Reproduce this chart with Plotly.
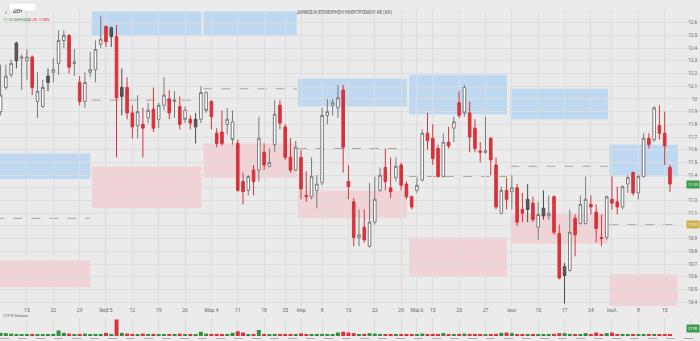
import plotly.graph_objects as go

# ---------------- data ----------------
opens = [11.90, 12.09, 12.19, 12.44, 12.32, 12.30, 12.33, 11.98, 11.94, 12.18,
         12.21, 12.28, 12.46, 12.50, 12.28, 12.13, 11.98, 12.21, 12.23, 12.43,
         12.57, 12.56, 12.49, 12.09, 12.09, 11.89, 11.79, 11.80, 11.85, 11.92,
         11.84, 11.95, 12.00, 11.98, 11.94, 11.91, 11.84, 11.78, 11.84, 12.05,
         11.98, 11.73, 11.65, 11.80, 11.82, 11.65, 11.35, 11.28, 11.44, 11.44,
         11.58, 11.47, 11.64, 11.95, 11.78, 11.54, 11.44, 11.54, 11.24, 11.23,
         11.28, 11.34, 11.87, 11.95, 11.93, 12.07, 11.35, 11.19, 10.91, 10.99,
         10.84, 11.03, 11.28, 11.46, 11.30, 11.38, 11.48, 11.33, 11.23, 11.28,
         11.36, 11.73, 11.69, 11.61, 11.39, 11.66, 11.77, 11.87, 12.09, 11.89,
         11.77, 11.59, 11.58, 11.69, 11.48, 11.10, 11.28, 11.27, 11.30, 11.13,
         11.21, 11.18, 10.99, 11.14, 11.10, 11.23, 10.94, 10.68, 10.65, 11.06,
         11.02, 11.02, 11.17, 11.11, 10.91, 10.91, 11.21, 11.19, 11.15, 11.33,
         11.42, 11.26, 11.39, 11.69, 11.68, 11.79, 11.73, 11.46]
highs = [12.27, 12.27, 12.31, 12.45, 12.35, 12.39, 12.34, 12.21, 12.15, 12.24,
         12.32, 12.54, 12.54, 12.51, 12.39, 12.18, 12.21, 12.37, 12.46, 12.65,
         12.58, 12.57, 12.58, 12.24, 12.17, 11.95, 12.03, 11.93, 11.97, 12.09,
         11.97, 12.17, 12.07, 12.06, 12.02, 11.94, 11.87, 11.89, 12.10, 12.06,
         11.99, 11.77, 11.91, 11.93, 11.91, 11.68, 11.42, 11.40, 11.48, 11.86,
         11.65, 11.61, 11.99, 11.99, 11.80, 11.69, 11.67, 11.60, 11.43, 11.54,
         11.40, 11.93, 12.00, 12.00, 12.11, 12.11, 11.48, 11.22, 11.13, 11.13,
         11.34, 11.39, 11.46, 11.61, 11.54, 11.54, 11.50, 11.35, 11.24, 11.38,
         11.76, 11.89, 11.80, 11.64, 11.73, 11.78, 11.86, 12.06, 12.11, 11.98,
         11.84, 11.66, 11.86, 11.70, 11.54, 11.31, 11.38, 11.40, 11.33, 11.26,
         11.33, 11.23, 11.19, 11.28, 11.24, 11.24, 11.01, 10.71, 11.13, 11.09,
         11.24, 11.39, 11.24, 11.17, 11.09, 11.24, 11.39, 11.31, 11.32, 11.40,
         11.43, 11.40, 11.73, 11.73, 11.94, 11.95, 11.90, 11.48]
lows = [11.87, 12.07, 12.17, 12.24, 12.07, 12.15, 12.03, 11.85, 11.93, 12.06,
        12.13, 12.19, 12.40, 12.20, 12.18, 11.95, 11.93, 12.17, 12.13, 12.40,
        12.41, 12.41, 11.54, 11.87, 11.84, 11.69, 11.69, 11.54, 11.81, 11.74,
        11.77, 11.91, 11.84, 11.85, 11.76, 11.81, 11.76, 11.65, 11.81, 11.89,
        11.76, 11.62, 11.63, 11.72, 11.64, 11.27, 11.17, 11.24, 11.24, 11.35,
        11.44, 11.46, 11.58, 11.76, 11.52, 11.42, 11.43, 11.21, 11.19, 11.21,
        11.14, 11.32, 11.80, 11.87, 11.85, 11.42, 11.21, 10.84, 10.84, 10.87,
        10.83, 11.01, 11.27, 11.28, 11.22, 11.35, 11.28, 11.21, 11.13, 11.26,
        11.35, 11.60, 11.48, 11.38, 11.38, 11.61, 11.66, 11.85, 11.86, 11.58,
        11.58, 11.50, 11.57, 11.40, 11.13, 11.09, 11.13, 11.13, 11.00, 11.03,
        11.03, 11.03, 10.89, 11.05, 11.05, 10.93, 10.58, 10.39, 10.64, 10.76,
        11.01, 11.01, 11.09, 10.87, 10.84, 10.89, 11.13, 11.09, 11.13, 11.26,
        11.24, 11.21, 11.38, 11.61, 11.66, 11.68, 11.48, 11.27]
closes = [12.03, 12.18, 12.28, 12.30, 12.33, 12.33, 12.09, 12.06, 12.09, 12.13,
          12.23, 12.46, 12.50, 12.25, 12.29, 11.98, 12.13, 12.23, 12.39, 12.47,
          12.45, 12.49, 12.01, 12.02, 11.89, 11.78, 11.90, 11.77, 11.91, 11.77,
          11.95, 12.03, 11.89, 11.99, 11.80, 11.84, 11.81, 11.84, 12.05, 11.91,
          11.86, 11.65, 11.74, 11.84, 11.68, 11.28, 11.27, 11.39, 11.35, 11.69,
          11.48, 11.50, 11.88, 11.81, 11.54, 11.44, 11.62, 11.29, 11.23, 11.39,
          11.33, 11.87, 11.90, 11.97, 12.01, 11.62, 11.31, 10.91, 10.93, 10.89,
          11.03, 11.21, 11.40, 11.35, 11.27, 11.47, 11.32, 11.23, 11.15, 11.32,
          11.73, 11.67, 11.53, 11.39, 11.66, 11.63, 11.82, 11.97, 11.89, 11.70,
          11.61, 11.58, 11.59, 11.52, 11.15, 11.28, 11.21, 11.30, 11.03, 11.10,
          11.13, 11.05, 11.09, 11.08, 11.08, 10.95, 10.59, 10.61, 10.95, 10.93,
          11.17, 11.21, 11.15, 10.98, 10.90, 11.23, 11.18, 11.15, 11.31, 11.38,
          11.26, 11.39, 11.69, 11.64, 11.93, 11.73, 11.63, 11.33]
# u = hollow up candle, r = red down candle, d = dark filled candle
kinds = list("uuuduuruud" "uuururuuuu" "rdrdrrurur" "uurururduu"
             "rrruurruru" "ruurrrurru" "uuuuurrrur" "uuurrurrru"
             "urrrururur" "rrurrururr" "drudurrdur" "uurrrurruu"
             "ruururrr")
volumes = [840, 760, 640, 480, 360, 300, 480, 290, 420, 380,
           560, 1480, 840, 640, 480, 560, 650, 470, 560, 420,
           840, 560, 4400, 840, 650, 560, 480, 650, 480, 560,
           480, 370, 480, 370, 650, 480, 370, 420, 1120, 640,
           560, 560, 480, 420, 840, 1260, 920, 480, 480, 1600,
           560, 370, 560, 480, 560, 420, 370, 700, 480, 370,
           370, 560, 370, 480, 920, 1120, 920, 760, 480, 560,
           760, 650, 560, 420, 480, 370, 480, 560, 370, 480,
           650, 480, 560, 480, 760, 480, 370, 560, 650, 560,
           560, 370, 370, 480, 560, 840, 920, 760, 480, 370,
           370, 480, 370, 480, 370, 560, 760, 760, 560, 480,
           480, 760, 420, 920, 560, 760, 920, 480, 480, 370,
           480, 370, 480, 370, 480, 370, 480, 277]

tick_pos = [5, 10, 15, 20, 25, 30, 35, 40, 45, 50, 54, 57, 61, 66, 71, 76, 79,
            82, 87, 92, 97, 102, 107, 112, 116, 121, 126, 131]
tick_text = ["15", "22", "29", "Φεβ 5", "12", "19", "26", "Μαρ 4", "11", "18",
             "25", "Απρ", "8", "15", "22", "29", "Μαϊ 6", "13", "20", "27",
             "Ιουν", "10", "17", "24", "Ιουλ", "8", "15", "22"]
price_ticks = [10.4, 10.5, 10.6, 10.7, 10.8, 10.9, 11.0, 11.1, 11.2, 11.3, 11.4,
               11.5, 11.6, 11.7, 11.8, 11.9, 12.0, 12.1, 12.2, 12.3, 12.4, 12.5,
               12.6]

# monthly zones (index span, supply/demand bands, pivot level)
zone_start = [-1.0, 17.3, 38.5, 56.4, 77.5, 96.7, 115.5]
zone_end = [17.0, 38.1, 56.2, 77.1, 96.1, 115.2, 128.5]
blue_top = [11.57, 12.69, 12.69, 12.16, 12.19, 12.08, 11.64]
blue_bot = [11.37, 12.50, 12.50, 11.94, 11.88, 11.84, 11.39]
pink_top = [10.73, 11.47, 11.65, 11.28, 10.91, 11.10, 10.62]
pink_bot = [10.52, 11.14, 11.38, 11.06, 10.60, 10.86, 10.37]
pivot = [11.06, 11.99, 12.08, 11.61, 11.39, 11.47, 11.01]

title_text = "ΔΗΜΟΣΙΑ ΕΠΙΧΕΙΡΗΣΗ ΗΛΕΚΤΡΙΣΜΟΥ ΑΕ (ΧΑ)"
symbol = "ΔΕΗ"

# ---------------- figure ----------------
W, H = 700, 341
BG = "#ebebeb"
GRID = "#dcdcdc"
RED = "#d8323a"
GREEN = "#2f8f3c"

idx = list(range(len(opens)))
fig = go.Figure()

styles = {
    "u": dict(fill="#ffffff", line="#7a7a7a"),
    "r": dict(fill=RED, line=RED),
    "d": dict(fill="#5a5a5a", line="#4a4a4a"),
}
for k, st in styles.items():
    sel = [i for i in idx if kinds[i] == k]
    fig.add_trace(go.Candlestick(
        x=sel,
        open=[opens[i] for i in sel], high=[highs[i] for i in sel],
        low=[lows[i] for i in sel], close=[closes[i] for i in sel],
        increasing=dict(fillcolor=st["fill"], line=dict(color=st["line"], width=1)),
        decreasing=dict(fillcolor=st["fill"], line=dict(color=st["line"], width=1)),
        whiskerwidth=0, showlegend=False, hoverinfo="skip",
        xaxis="x", yaxis="y"))

vol_colors = [GREEN if kinds[i] in "ud" else RED for i in idx]
fig.add_trace(go.Bar(x=idx, y=volumes, marker=dict(color=vol_colors, line=dict(width=0)),
                     width=0.75, showlegend=False, hoverinfo="skip",
                     xaxis="x2", yaxis="y2"))

shapes = []
for j in range(len(zone_start)):
    shapes.append(dict(type="rect", xref="x", yref="y", layer="below",
                       x0=zone_start[j], x1=zone_end[j], y0=blue_bot[j], y1=blue_top[j],
                       fillcolor="#bfd8f1", line=dict(width=0)))
    shapes.append(dict(type="rect", xref="x", yref="y", layer="below",
                       x0=zone_start[j], x1=zone_end[j], y0=pink_bot[j], y1=pink_top[j],
                       fillcolor="#f2d3d5", line=dict(width=0)))
    shapes.append(dict(type="line", xref="x", yref="y", layer="below",
                       x0=zone_start[j], x1=zone_end[j], y0=pivot[j], y1=pivot[j],
                       line=dict(color="#aaa48c", width=1, dash="dash")))
# search box + separator at volume bottom
shapes.append(dict(type="rect", xref="paper", yref="paper",
                   x0=9 / W, x1=36 / W, y0=1 - 11 / H, y1=1 - 3 / H,
                   fillcolor="#ffffff", line=dict(color="#d0d0d0", width=0.5)))
shapes.append(dict(type="line", xref="paper", yref="paper",
                   x0=0, x1=1, y0=1 - 338.5 / H, y1=1 - 338.5 / H,
                   line=dict(color="#c8a0a0", width=1, dash="dash")))

FONT = "Roboto"
last = closes[-1]
# price-axis labels hidden where the last-price / pivot badges sit on top of them
price_text = ["" if (abs(v - last) < 0.06 or abs(v - pivot[-1]) < 0.06)
              else f"{v:g}" for v in price_ticks]

ann = []
ann.append(dict(text=title_text, x=344 / W, y=1 - 7 / H, xref="paper", yref="paper",
                showarrow=False, font=dict(size=4.5, color="#555", family=FONT)))
ann.append(dict(text="‹", x=3 / W, y=1 - 7 / H, xref="paper", yref="paper",
                showarrow=False, font=dict(size=7, color="#555", family=FONT)))
ann.append(dict(text=symbol, x=11 / W, y=1 - 7 / H, xref="paper", yref="paper", xanchor="left",
                showarrow=False, font=dict(size=4.5, color="#333", family=FONT)))
ann.append(dict(text=f"{last:.2f} {symbol}(ΧΑ)", x=0.5 / W, y=1 - 15 / H,
                xref="paper", yref="paper", xanchor="left", showarrow=False,
                font=dict(size=4, color="#3c8a46", family=FONT)))
ann.append(dict(text=f"{last - closes[-2]:.2f} {100 * (last - closes[-2]) / closes[-2]:.2f}%",
                x=26 / W, y=1 - 15 / H, xref="paper", yref="paper", xanchor="left",
                showarrow=False, font=dict(size=4, color=RED, family=FONT)))
ann.append(dict(text=f"{last:.2f}", x=1, y=last, xref="paper", yref="y",
                xanchor="right", showarrow=False, bgcolor="#3e9a4c", borderpad=1,
                font=dict(size=4, color="#ffffff", family=FONT)))
ann.append(dict(text=f"{pivot[-1]:.2f}", x=1, y=pivot[-1], xref="paper", yref="y",
                xanchor="right", showarrow=False, bgcolor="#cfae4a", borderpad=1,
                font=dict(size=4, color="#ffffff", family=FONT)))
ann.append(dict(text=f"{volumes[-1]} K Volume", x=0.5 / W, y=1 - 320 / H, xref="paper",
                yref="paper", xanchor="left", showarrow=False,
                font=dict(size=4, color="#555", family=FONT)))
ann.append(dict(text=f"{volumes[-1]}K", x=1, y=1 - 333 / H, xref="paper", yref="paper",
                xanchor="right", showarrow=False, bgcolor="#3e9a4c", borderpad=1,
                font=dict(size=4, color="#ffffff", family=FONT)))

x_range = [-0.11, 132.7]
fig.update_layout(
    width=W, height=H, margin=dict(l=0, r=0, t=0, b=0),
    paper_bgcolor=BG, plot_bgcolor=BG,
    shapes=shapes, annotations=ann, bargap=0.3,
    xaxis=dict(domain=[0, 1], range=x_range, anchor="y", tickmode="array",
               tickvals=tick_pos, ticktext=tick_text, showgrid=True, gridcolor=GRID,
               gridwidth=1, zeroline=False, ticks="", showline=False,
               tickfont=dict(size=5, color="#666", family=FONT),
               rangeslider=dict(visible=False)),
    yaxis=dict(domain=[1 - 306 / H, 1 - 10 / H], range=[10.37, 12.70], side="right",
               ticklabelposition="inside", tickmode="array", tickvals=price_ticks,
               ticktext=price_text, showgrid=True,
               gridcolor=GRID, zeroline=False, ticks="", showline=False,
               tickfont=dict(size=4.5, color="#666", family=FONT)),
    xaxis2=dict(domain=[0, 1], range=x_range, anchor="y2", matches="x",
                tickmode="array", tickvals=tick_pos, showticklabels=False,
                showgrid=True, gridcolor=GRID, zeroline=False, ticks=""),
    yaxis2=dict(domain=[1 - 336 / H, 1 - 318 / H], range=[0, 4800], showticklabels=False,
                showgrid=False, zeroline=False),
    boxmode="overlay",
)
fig.write_html("out.html")
